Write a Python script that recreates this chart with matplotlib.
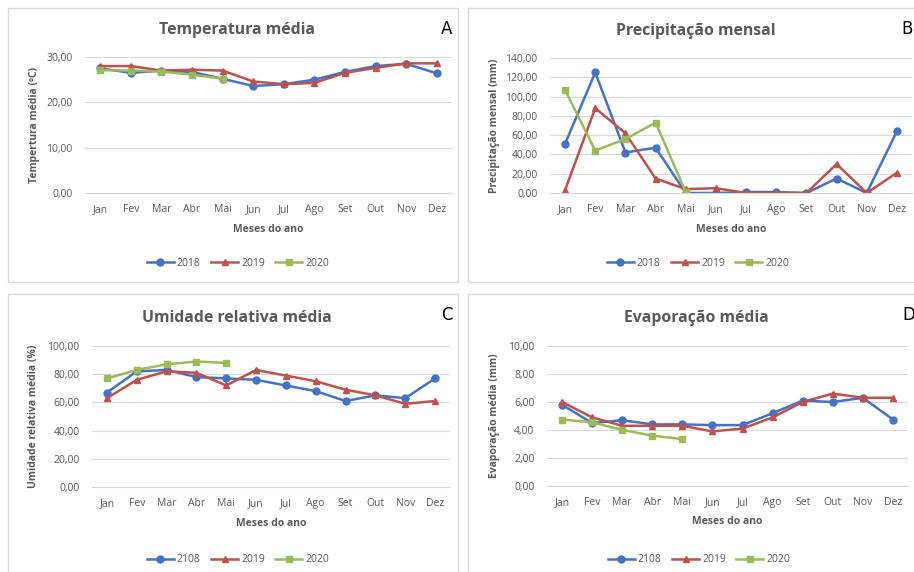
import numpy as np
import matplotlib
matplotlib.use('Agg')
from matplotlib import pyplot as plt
from matplotlib.patches import Rectangle

plt.rcParams['font.family'] = ['Open Sans', 'DejaVu Sans']

W, H = 914, 572

months = ['Jan', 'Fev', 'Mar', 'Abr', 'Mai', 'Jun', 'Jul', 'Ago', 'Set', 'Out', 'Nov', 'Dez']

# A - temperatura media (ºC)
temp_2018 = [27.5, 26.5, 27.0, 26.7, 25.2, 23.6, 24.0, 25.0, 26.7, 28.0, 28.5, 26.4]
temp_2019 = [28.0, 28.0, 27.0, 27.2, 27.0, 24.6, 24.0, 24.3, 26.5, 27.6, 28.6, 28.6]
temp_2020 = [27.1, 27.0, 26.8, 26.1, 25.2]

# B - precipitacao mensal (mm)
prec_2018 = [51, 125, 42, 47, 0, 0, 1, 1, 0, 15, 0, 64]
prec_2019 = [3, 88, 62, 15, 4, 5, 0, 0, 0, 30, 0, 21]
prec_2020 = [107, 44, 56, 73, 1]

# C - umidade relativa media (%)
umid_2018 = [67, 82, 83, 78, 77, 76, 72, 68, 61, 65, 63, 77]
umid_2019 = [63, 76, 82, 81, 72, 83, 79, 75, 69, 65, 59, 61]
umid_2020 = [77, 83, 87, 89, 88]

# D - evaporacao media (mm)
evap_2018 = [5.8, 4.5, 4.7, 4.4, 4.4, 4.35, 4.35, 5.2, 6.1, 6.0, 6.3, 4.75]
evap_2019 = [6.0, 4.9, 4.3, 4.3, 4.3, 3.9, 4.1, 4.9, 6.0, 6.6, 6.3, 6.3]
evap_2020 = [4.75, 4.55, 4.0, 3.6, 3.35]

BLUE = '#4472C4'
RED = '#C0504D'
GREEN = '#9BBB59'
GRAY = '#595959'

fig = plt.figure(figsize=(W / 100, H / 100), dpi=100)


def px_rect(x0, y0, x1, y1):
    return [x0 / W, 1 - y1 / H, (x1 - x0) / W, (y1 - y0) / H]


def ftext(x, y, s, **kw):
    fig.text(x / W, 1 - y / H, s, **kw)


def panel(box, ax_box, series, labels, yticks, title, ylabel, letter,
          title_xy, letter_x, legend_xy):
    # panel border
    bx0, by0, bx1, by1 = box
    fig.patches.append(Rectangle((bx0 / W, 1 - by1 / H), (bx1 - bx0) / W, (by1 - by0) / H,
                                 transform=fig.transFigure, fill=False,
                                 edgecolor='#D9D9D9', linewidth=1.0))
    ax = fig.add_axes(px_rect(*ax_box))
    x = np.arange(len(months))
    handles = []
    for vals, lab, col, mk in zip(series, labels, [BLUE, RED, GREEN], ['o', '^', 's']):
        h, = ax.plot(x[:len(vals)], vals, color=col, marker=mk, markersize=5,
                     linewidth=1.8, label=lab)
        handles.append(h)
    ax.set_xlim(-0.5, len(months) - 0.5)
    ax.set_ylim(yticks[0], yticks[-1])
    ax.set_yticks(yticks)
    ax.set_yticklabels([('%.2f' % v).replace('.', ',') for v in yticks])
    ax.set_xticks(x)
    ax.set_xticklabels(months)
    ax.tick_params(length=0, labelsize=7.5, labelcolor=GRAY)
    ax.tick_params(axis='x', pad=8)
    ax.tick_params(axis='y', pad=9)
    for s in ['top', 'right', 'left']:
        ax.spines[s].set_visible(False)
    ax.spines['bottom'].set_color('#D9D9D9')
    ax.grid(axis='y', color='#D9D9D9', linewidth=0.8)
    ax.set_axisbelow(True)
    ax.patch.set_alpha(0)

    x0, y0, x1, y1 = ax_box
    cx = (x0 + x1) / 2
    cy = (y0 + y1) / 2
    ftext(title_xy[0], title_xy[1], title, ha='center', va='center',
          fontsize=11.3, fontweight='bold', color=GRAY)
    ftext(cx, y1 + 36, 'Meses do ano', ha='center', va='center', fontsize=7.5,
          fontweight='bold', color=GRAY)
    ftext(bx0 + 26, cy, ylabel, ha='center', va='center', rotation=90, fontsize=7.5,
          fontweight='bold', color=GRAY)
    ftext(letter_x, by0 + 21, letter, ha='left', va='center', fontsize=12,
          color='black', family='DejaVu Sans')
    fig.legend(handles=handles, loc='center',
               bbox_to_anchor=(legend_xy[0] / W, 1 - legend_xy[1] / H),
               ncol=3, frameon=False, fontsize=7.5, handlelength=2.6, columnspacing=1.0,
               handletextpad=0.3, labelcolor=GRAY)
    return ax


panel((8, 8, 458, 282), (85, 57, 452, 193),
      [temp_2018, temp_2019, temp_2020], ['2018', '2019', '2020'],
      [0, 10, 20, 30], 'Temperatura média', 'Tempertura média (ºC)', 'A',
      (237, 30), 441, (238, 263))

panel((468, 8, 930, 282), (550, 58, 912, 193),
      [prec_2018, prec_2019, prec_2020], ['2018', '2019', '2020'],
      [0, 20, 40, 60, 80, 100, 120, 140], 'Precipitação mensal',
      'Precipitação mensal (mm)', 'B',
      (696, 31), 901, (698, 263))

panel((8, 294, 458, 600), (92, 346, 450, 487),
      [umid_2018, umid_2019, umid_2020], ['2108', '2019', '2020'],
      [0, 20, 40, 60, 80, 100], 'Umidade relativa média',
      'Umidade relativa média (%)', 'C',
      (237, 318), 441, (238, 560))

panel((468, 294, 930, 600), (547, 346, 908, 486),
      [evap_2018, evap_2019, evap_2020], ['2108', '2019', '2020'],
      [0, 2, 4, 6, 8, 10], 'Evaporação média', 'Evaporação média (mm)', 'D',
      (696, 318), 902, (699, 560))

plt.savefig('out.png', dpi=100)
